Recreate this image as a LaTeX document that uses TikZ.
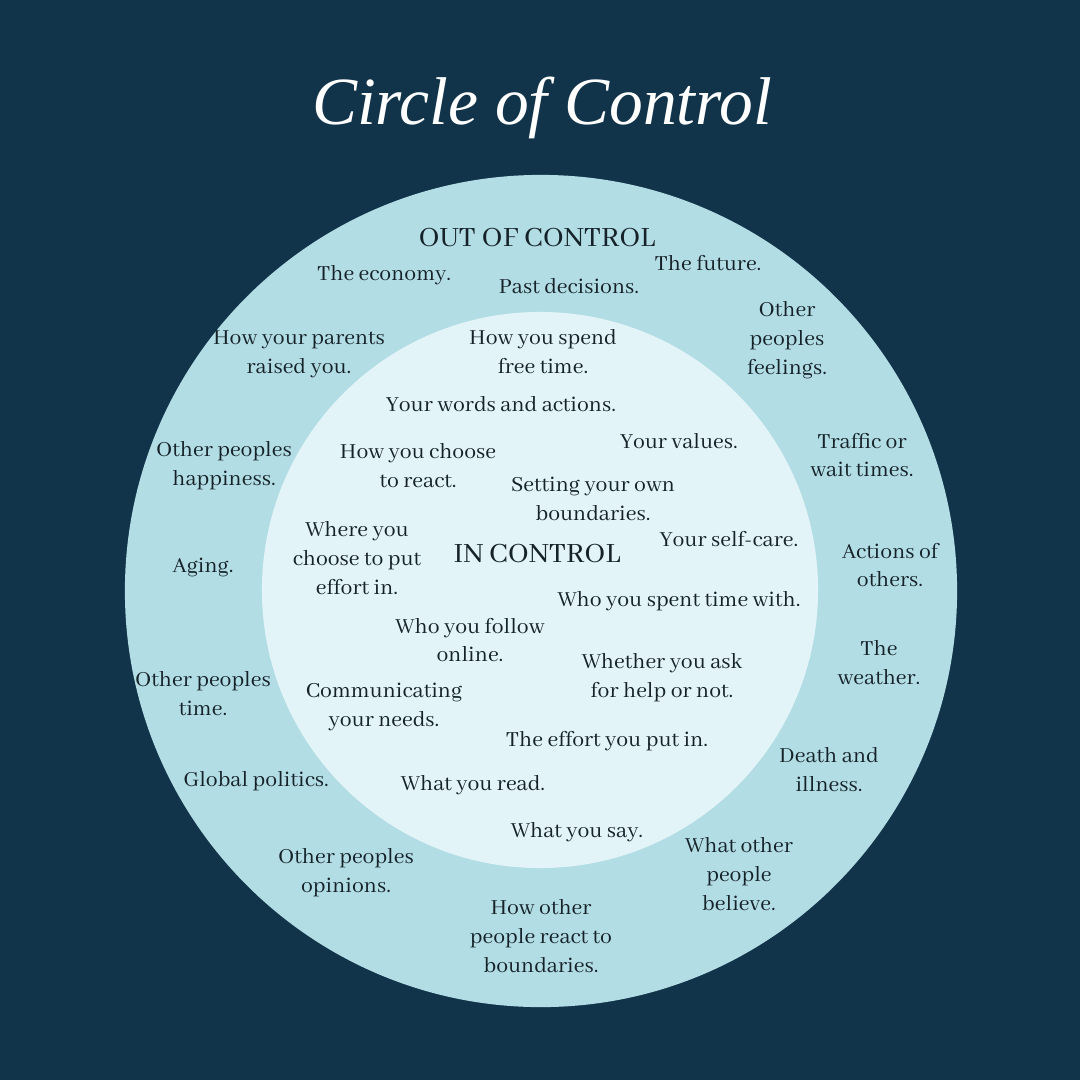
\documentclass[tikz,border=0pt]{standalone}
\usepackage{fontspec}
\setmainfont{Abhaya Libre}
\newfontfamily\titlefont{Liberation Serif}
\definecolor{navy}{HTML}{12344A}
\definecolor{outerring}{HTML}{B3DDE4}
\definecolor{innerdisc}{HTML}{E2F4F8}
\definecolor{ink}{HTML}{152229}
\tikzset{
  item/.style={align=center, text=ink, inner sep=0pt, font=\fontsize{16.8}{20.5}\selectfont},
  heading/.style={text=ink, inner sep=0pt, font=\fontsize{21.8}{24}\selectfont},
}
\begin{document}
\begin{tikzpicture}[x=0.025cm, y=-0.025cm]
        \fill[navy] (0,0) rectangle (1080,1080);
        \fill[outerring] (541,591) circle (10.4cm);
        \fill[innerdisc] (540,590) circle (6.95cm);
        \node[text=white, font=\titlefont\itshape\fontsize{48}{52}\selectfont] (title) at (542,108) {Circle of Control};
        % out of control
        \node[heading] (out) at (537,238) {OUT OF CONTROL};
        \node[item] (economy) at (384,275) {The economy.};
        \node[item] (past) at (569,286) {Past decisions.};
        \node[item] (future) at (708,263) {The future.};
        \node[item] (parents) at (299,354) {How your parents\\raised you.};
        \node[item] (feelings) at (787,340) {Other\\peoples\\feelings.};
        \node[item] (traffic) at (862,455) {Traffic or\\wait times.};
        \node[item] (happiness) at (224,466) {Other peoples\\happiness.};
        \node[item] (actions) at (890,565) {Actions of\\others.};
        \node[item] (aging) at (203,567) {Aging.};
        \node[item] (weather) at (879,663) {The\\weather.};
        \node[item] (time) at (203,694) {Other peoples\\time.};
        \node[item] (death) at (829,770) {Death and\\illness.};
        \node[item] (politics) at (256,781) {Global politics.};
        \node[item] (believe) at (739,874) {What other\\people\\believe.};
        \node[item] (opinions) at (346,873) {Other peoples\\opinions.};
        \node[item] (react) at (541,936) {How other\\people react to\\boundaries.};
        % in control
        \node[heading] (in) at (537,554) {IN CONTROL};
        \node[item] (spend) at (543,352) {How you spend\\free time.};
        \node[item] (words) at (501,404) {Your words and actions.};
        \node[item] (values) at (679,441) {Your values.};
        \node[item] (choose) at (418,466) {How you choose\\to react.};
        \node[item] (bounds) at (593,499) {Setting your own\\boundaries.};
        \node[item] (effort) at (357,558) {Where you\\choose to put\\effort in.};
        \node[item] (selfcare) at (729,539) {Your self-care.};
        \node[item] (spent) at (679,601) {Who you spent time with.};
        \node[item] (follow) at (470,640) {Who you follow\\online.};
        \node[item] (help) at (662,678) {Whether you ask\\for help or not.};
        \node[item] (needs) at (384,707) {Communicating\\your needs.};
        \node[item] (putin) at (607,741) {The effort you put in.};
        \node[item] (read) at (473,785) {What you read.};
        \node[item] (say) at (577,832) {What you say.};
\end{tikzpicture}
\end{document}
